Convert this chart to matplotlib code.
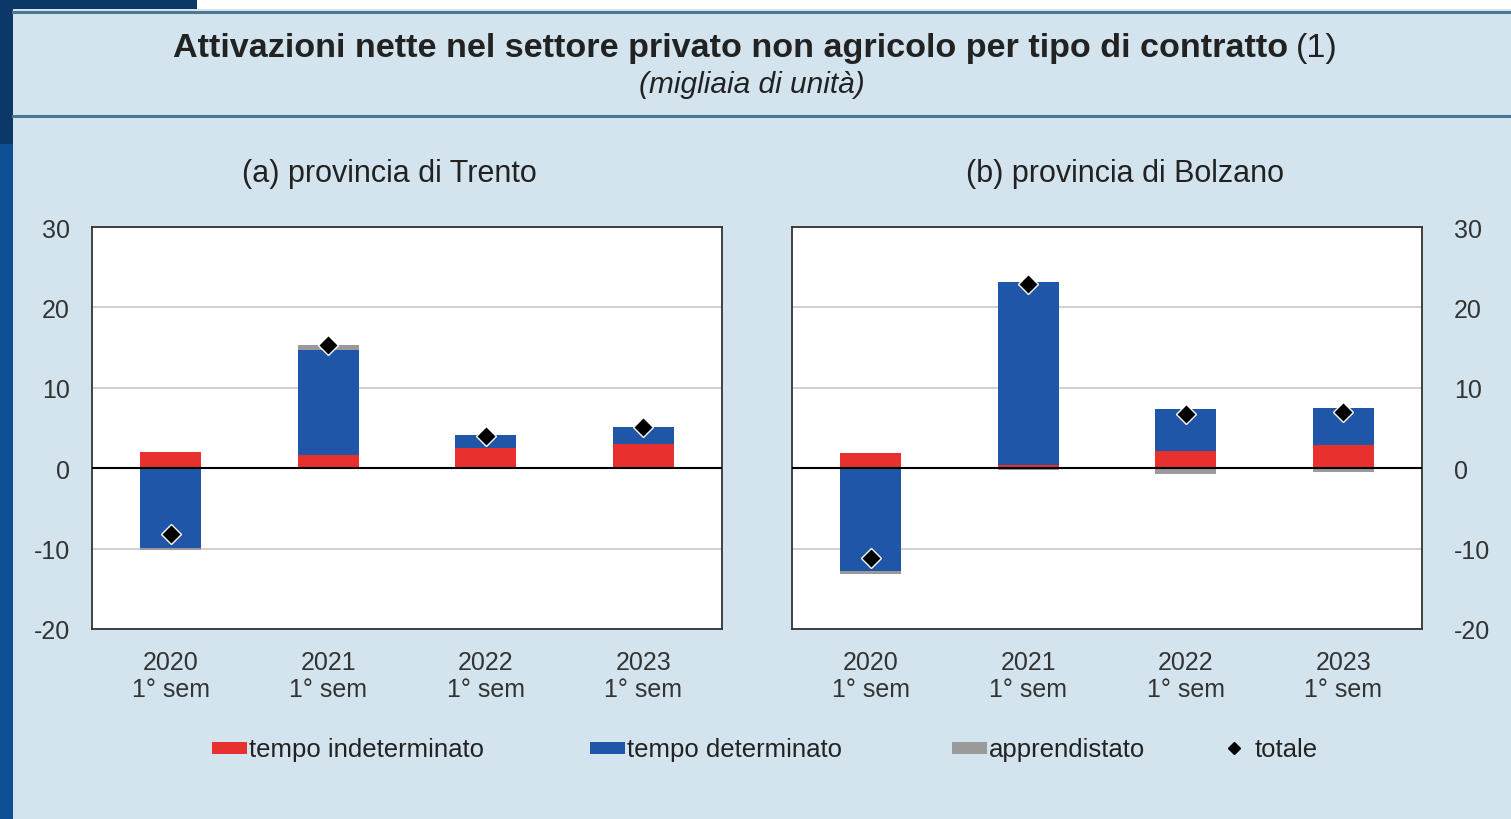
import numpy as np
import matplotlib
matplotlib.use("Agg")
import matplotlib.pyplot as plt
from matplotlib.patches import Rectangle
from matplotlib.lines import Line2D

plt.rcParams['font.family'] = ['Liberation Sans', 'DejaVu Sans']
plt.rcParams['axes.unicode_minus'] = False

# data (migliaia di unità)
periods = ["2020\n1° sem", "2021\n1° sem", "2022\n1° sem", "2023\n1° sem"]
series_names = ["tempo indeterminato", "tempo determinato", "apprendistato"]
colors = ["#e8302e", "#1f56a8", "#9a9a9a"]

trento_indet = [2.0, 1.6, 2.5, 3.0]
trento_det = [-9.9, 13.1, 1.6, 2.1]
trento_appr = [-0.3, 0.6, -0.1, 0.0]
trento_tot = [-8.2, 15.3, 4.0, 5.1]

bolzano_indet = [1.95, 0.4, 2.2, 2.9]
bolzano_det = [-12.8, 22.7, 5.2, 4.6]
bolzano_appr = [-0.3, -0.2, -0.7, -0.5]
bolzano_tot = [-11.2, 22.9, 6.7, 7.0]

bg = "#d3e4ee"
W, H = 1511, 820
fig = plt.figure(figsize=(W / 100, H / 100), dpi=100, facecolor=bg)


def fx(px):
    return px / W


def fy(py):
    return 1 - py / H


# frame decorations
fig.add_artist(Rectangle((0, fy(10)), fx(W), 10 / H, transform=fig.transFigure,
                         facecolor="white", edgecolor="none"))
fig.add_artist(Rectangle((0, fy(10)), fx(197), 10 / H, transform=fig.transFigure,
                         facecolor="#0b3868", edgecolor="none"))
fig.add_artist(Rectangle((0, fy(145)), fx(13), 135 / H, transform=fig.transFigure,
                         facecolor="#0b3868", edgecolor="none"))
fig.add_artist(Rectangle((0, 0), fx(13), fy(145), transform=fig.transFigure,
                         facecolor="#0f4f94", edgecolor="none"))
for yy in (13, 117):
    fig.add_artist(Line2D([fx(13), 1], [fy(yy), fy(yy)], transform=fig.transFigure,
                          color="#4b7890", lw=2.2))

fig.text(fx(1288), fy(48), "Attivazioni nette nel settore privato non agricolo per tipo di contratto",
         ha="right", va="center", fontsize=24.6, fontweight="bold", color="#222222")
fig.text(fx(1296), fy(48), "(1)", ha="left", va="center", fontsize=24.6, color="#222222")
fig.text(fx(752), fy(85), "(migliaia di unità)", ha="center", va="center",
         fontsize=21.5, style="italic", color="#222222")


def draw(ax, parts, total):
    x = np.arange(len(periods))
    pos = np.zeros(len(x))
    neg = np.zeros(len(x))
    for vals, c in zip(parts, colors):
        v = np.array(vals)
        bottom = np.where(v >= 0, pos, neg)
        ax.bar(x, v, 0.39, bottom=bottom, color=c, zorder=3)
        pos = pos + np.where(v >= 0, v, 0)
        neg = neg + np.where(v < 0, v, 0)
    ax.plot(x, total, "D", ms=10, color="black", mec="white", mew=1, zorder=5)
    ax.axhline(0, color="black", lw=1.5, zorder=4)
    ax.set_ylim(-20, 30)
    ax.set_yticks([-20, -10, 0, 10, 20, 30])
    ax.set_xlim(-0.5, 3.5)
    ax.set_xticks(x)
    ax.set_xticklabels(periods, fontsize=18, linespacing=1.15)
    ax.grid(axis="y", color="#c8c8c8", lw=1.2, zorder=0)
    ax.tick_params(length=0, labelsize=18, colors="#333333")
    ax.tick_params(axis="x", pad=15)
    for s in ax.spines.values():
        s.set_color("#333333")
        s.set_linewidth(1.3)


ax1 = fig.add_axes([fx(92), fy(630), fx(630), 402 / H])
draw(ax1, [trento_indet, trento_det, trento_appr], trento_tot)
ax1.tick_params(axis="y", pad=16)

ax2 = fig.add_axes([fx(792), fy(630), fx(630), 402 / H])
draw(ax2, [bolzano_indet, bolzano_det, bolzano_appr], bolzano_tot)
ax2.yaxis.tick_right()
ax2.tick_params(axis="y", pad=23)

fig.text(fx(389), fy(174), "(a) provincia di Trento", ha="center", va="center",
         fontsize=22, color="#222222")
fig.text(fx(1125), fy(174), "(b) provincia di Bolzano", ha="center", va="center",
         fontsize=22, color="#222222")

# legend
leg_x = [212, 590, 952]
for lx, name, c in zip(leg_x, series_names, colors):
    fig.add_artist(Rectangle((fx(lx), fy(755)), fx(35), 12 / H, transform=fig.transFigure,
                             facecolor=c, edgecolor="none"))
    fig.text(fx(lx + 37), fy(750), name, ha="left", va="center", fontsize=18.5,
             color="#222222")
fig.add_artist(Line2D([fx(1234)], [fy(749)], marker="D", ms=6, color="black",
                      transform=fig.transFigure))
fig.text(fx(1255), fy(750), "totale", ha="left", va="center", fontsize=18.5, color="#222222")

fig.savefig("out.png", dpi=100, facecolor=bg)
